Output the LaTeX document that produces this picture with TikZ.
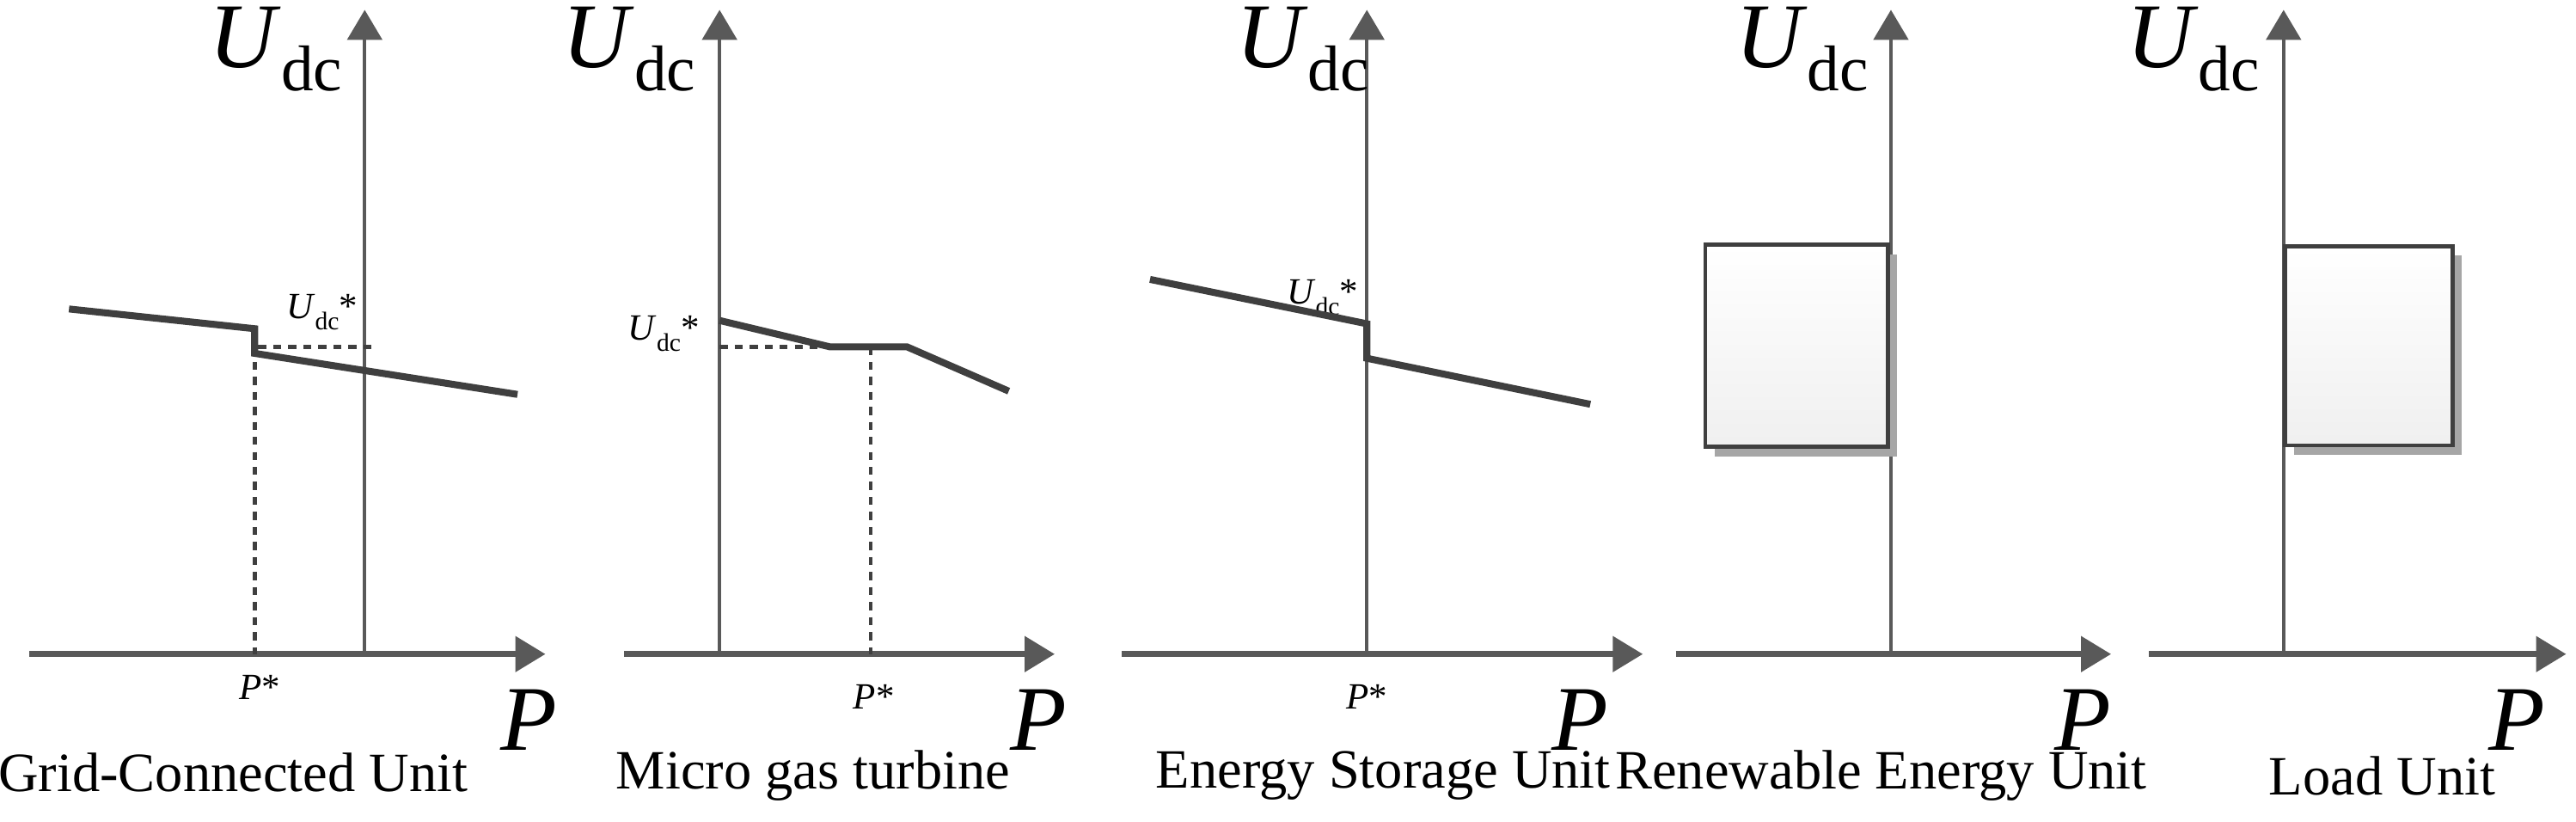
\documentclass[tikz,border=0pt]{standalone}
\usepackage{fontspec}
\setmainfont{Liberation Serif}
\usetikzlibrary{arrows.meta,shadows}
\definecolor{axc}{HTML}{595959}
\definecolor{crv}{HTML}{3F3F3F}
\tikzset{
 axis/.style={draw=axc,line width=5pt,-{Triangle[length=26pt,width=30pt]}},
 yaxis/.style={draw=axc,line width=3.2pt,-{Triangle[length=26pt,width=30pt]}},
 curve/.style={draw=crv,line width=6pt,line join=miter},
 dsh/.style={draw=crv,line width=3.6pt,dash pattern=on 7pt off 6pt},
 big/.style={font=\fontsize{80}{80}\selectfont,inner sep=0pt},
 lab/.style={font=\fontsize{48}{48}\selectfont,inner sep=0pt},
 sm/.style={font=\fontsize{32}{32}\selectfont,inner sep=0pt},
 bx/.style={draw=crv,line width=3.6pt,top color=white,bottom color=gray!12,
   drop shadow={shadow xshift=8pt,shadow yshift=-8pt,fill=gray!70,opacity=1}}
}
\newcommand{\Udc}{\textit{U}\raisebox{-0.25em}{\fontsize{56}{56}\selectfont dc}}
\newcommand{\Usm}{\textit{U}\raisebox{-0.3em}{\fontsize{22}{22}\selectfont dc}*}
\begin{document}
\begin{tikzpicture}[x=0.05cm,y=-0.05cm]
\useasboundingbox (0,0) rectangle (1568,500);
% panel 1
\coordinate (a1s) at (18,398); \coordinate (a1e) at (332,398);
\coordinate (b1s) at (222,398); \coordinate (b1e) at (222,6);
\draw[yaxis] (b1s) -- (b1e); \draw[axis] (a1s) -- (a1e);
\coordinate (c1a) at (42,188); \coordinate (c1b) at (155,200);
\coordinate (c1c) at (155,215); \coordinate (c1d) at (315,240);
\coordinate (d1a) at (226,211); \coordinate (d1b) at (155,211); \coordinate (d1c) at (155,398);
\draw[dsh] (d1a) -- (d1b); \draw[dsh] (d1b) -- (d1c);
\draw[curve] (c1a) -- (c1b) -- (c1c) -- (c1d);
\node[big] (u1) at (168,30) {\Udc};
\node[sm] (s1) at (196,190) {\Usm};
\node[sm] (p1) at (158,418) {\textit{P}*};
\node[big] (P1) at (322,438) {\textit{P}};
\node[lab] (t1) at (142,470) {Grid-Connected Unit};
% panel 2
\coordinate (a2s) at (380,398); \coordinate (a2e) at (642,398);
\coordinate (b2s) at (438,398); \coordinate (b2e) at (438,6);
\draw[yaxis] (b2s) -- (b2e); \draw[axis] (a2s) -- (a2e);
\coordinate (c2a) at (438,195); \coordinate (c2b) at (505,211);
\coordinate (c2c) at (552,211); \coordinate (c2d) at (614,238);
\coordinate (d2a) at (438,211); \coordinate (d2b) at (530,211); \coordinate (d2c) at (530,398);
\draw[dsh] (d2a) -- (c2b); \draw[dsh] (d2b) -- (d2c);
\draw[curve] (c2a) -- (c2b) -- (c2c) -- (c2d);
\node[big] (u2) at (383,30) {\Udc};
\node[sm] (s2) at (404,203) {\Usm};
\node[sm] (p2) at (532,424) {\textit{P}*};
\node[big] (P2) at (632,438) {\textit{P}};
\node[lab] (t2) at (495,472) {Micro gas turbine};
% panel 3
\coordinate (a3s) at (683,398); \coordinate (a3e) at (1000,398);
\coordinate (b3s) at (832,398); \coordinate (b3e) at (832,6);
\draw[yaxis] (b3s) -- (b3e); \draw[axis] (a3s) -- (a3e);
\coordinate (c3a) at (700,170); \coordinate (c3b) at (832,197);
\coordinate (c3c) at (832,218); \coordinate (c3d) at (968,246);
\node[sm] (s3) at (805,181) {\Usm};
\draw[curve] (c3a) -- (c3b) -- (c3c) -- (c3d);
\node[big] (u3) at (793,30) {\Udc};
\node[sm] (p3) at (832,424) {\textit{P}*};
\node[big] (P3) at (962,438) {\textit{P}};
\node[lab] (t3) at (842,472) {Energy Storage Unit};
% panel 4
\coordinate (a4s) at (1020,398); \coordinate (a4e) at (1285,398);
\coordinate (b4s) at (1151,398); \coordinate (b4e) at (1151,6);
\draw[yaxis] (b4s) -- (b4e); \draw[axis] (a4s) -- (a4e);
\draw[bx] (1038,149) rectangle (1149,272);
\node[big] (u4) at (1097,30) {\Udc};
\node[big] (P4) at (1268,438) {\textit{P}};
\node[lab] (t4) at (1145,472) {Renewable Energy Unit};
% panel 5
\coordinate (a5s) at (1308,398); \coordinate (a5e) at (1562,398);
\coordinate (b5s) at (1390,398); \coordinate (b5e) at (1390,6);
\draw[yaxis] (b5s) -- (b5e); \draw[axis] (a5s) -- (a5e);
\draw[bx] (1391,150) rectangle (1493,271);
\node[big] (u5) at (1335,30) {\Udc};
\node[big] (P5) at (1532,438) {\textit{P}};
\node[lab] (t5) at (1450,472) {Load Unit};
\end{tikzpicture}
\end{document}
